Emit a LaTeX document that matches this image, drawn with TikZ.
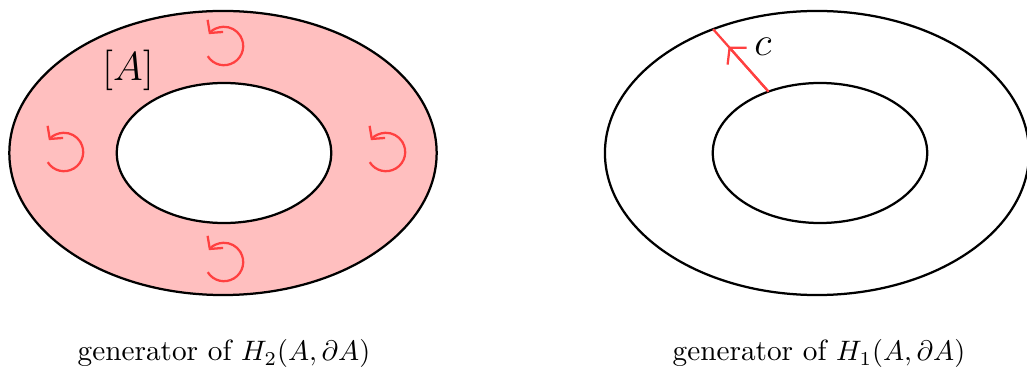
\documentclass[tikz,border=0pt]{standalone}
\usepackage{amsmath,amssymb}
\usetikzlibrary{arrows.meta,positioning,calc,shapes.geometric}
\begin{document}
\begin{tikzpicture}[x=0.0125cm, y=0.0125cm, line width=0.8pt, every node/.style={font=\fontsize{10.4}{12}\selectfont}]
\tikzstyle{outerring}=[draw, ellipse, inner sep=0pt, outer sep=0pt, minimum width=5.34cm, minimum height=3.55cm]
\tikzstyle{innerring}=[draw, ellipse, inner sep=0pt, outer sep=0pt, fill=white, minimum width=2.68cm, minimum height=1.75cm]
\tikzstyle{spin}=[draw=red!75, -{Straight Barb[length=3.2pt, width=7pt]}]
\useasboundingbox (0,0) rectangle (1027,385);
\node[outerring, fill=red!25] (outerL) at (223,232) {};
\node[innerring] (innerL) at (224,232) {};
\node[outerring, minimum width=5.3cm] (outerR) at (817,232) {};
\node[innerring] (innerR) at (820,232) {};
\foreach \cx/\cy in {224/339, 64/233, 386/233, 224/123}
  \draw[spin] ($(\cx,\cy)+(212:0.24cm)$) arc[start angle=212, end angle=502, radius=0.24cm];
\node[font=\Large] (cls) at (128,315) {$[A]$};
\draw[red!75] (innerR.130) -- (outerR.130);
\draw[red!75, -{Straight Barb[length=4pt, width=9pt]}] (innerR.130) -- ($(innerR.130)!0.72!(outerR.130)$);
\node[font=\Large] (clab) at (763,338) {$c$};
\node[anchor=base] (capL) at (224,24) {generator of $H_2(A,\partial A)$};
\node[anchor=base] (capR) at (819,24) {generator of $H_1(A,\partial A)$};
\end{tikzpicture}
\end{document}
